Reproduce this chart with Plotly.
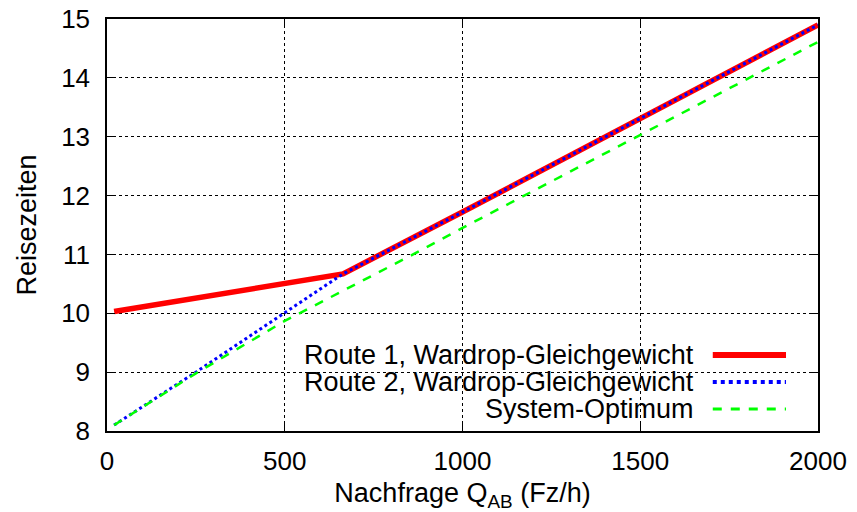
import plotly.graph_objects as go

# ── Data ──────────────────────────────────────────────────────────────────────
route1_q = [20, 664, 1000, 1500, 2000]
route1_t = [10.03, 10.67, 11.72, 13.31, 14.90]

route2_q = [20, 250, 500, 664, 1000, 1500, 2000]
route2_t = [8.10, 9.00, 10.01, 10.67, 11.72, 13.31, 14.90]

sysopt_q = [20, 250, 500, 861, 1000, 1500, 2000]
sysopt_t = [8.10, 8.98, 9.87, 11.00, 11.45, 13.03, 14.61]

names = ['Route 1, Wardrop-Gleichgewicht',
         'Route 2, Wardrop-Gleichgewicht',
         'System-Optimum']
colors = ['#ff0000', '#0000ff', '#00ff00']

FONT = 'Liberation Sans, Arial, sans-serif'
FS = 27        # titles and key text
FS_TICK = 26

fig = go.Figure()
fig.add_trace(go.Scatter(x=route1_q, y=route1_t, mode='lines', name=names[0],
                         line=dict(color=colors[0], width=5.5)))
fig.add_trace(go.Scatter(x=route2_q, y=route2_t, mode='lines', name=names[1],
                         line=dict(color=colors[1], width=3, dash='dot')))
fig.add_trace(go.Scatter(x=sysopt_q, y=sysopt_t, mode='lines', name=names[2],
                         line=dict(color=colors[2], width=2.5, dash='dash')))

# white box behind the key hides the grid, as gnuplot does
fig.add_shape(type='rect', xref='paper', yref='paper',
              x0=0.145, x1=1, y0=0, y1=0.216,
              fillcolor='white', line=dict(width=0), layer='between')

# ── Key: text right-aligned, sample line to its right ────────────────────────
rows_y = [0.1845, 0.119, 0.0534]
dashes = ['solid', 'dot', 'dash']
widths = [6, 4, 3]
for name, col, yy, dsh, w in zip(names, colors, rows_y, dashes, widths):
    fig.add_annotation(xref='paper', yref='paper', x=0.829, y=yy,
                       text=name, showarrow=False, xanchor='right',
                       yanchor='middle', font=dict(size=FS, color='black'))
    fig.add_shape(type='line', xref='paper', yref='paper',
                  x0=0.852, x1=0.955, y0=yy, y1=yy,
                  line=dict(color=col, width=w, dash=dsh))

axis_common = dict(
    showline=True, linecolor='black', linewidth=1.5, mirror='ticks',
    ticks='inside', ticklen=8, tickcolor='black', tickwidth=1,
    showgrid=True, gridcolor='black', gridwidth=1, griddash='dot',
    zeroline=False, automargin=False, ticklabeloverflow='allow',
    tickfont=dict(size=FS_TICK, color='black'),
)

fig.update_layout(
    width=857, height=512,
    margin=dict(l=107, r=39, t=19, b=81),
    paper_bgcolor='white', plot_bgcolor='white',
    font=dict(family=FONT, size=FS, color='black'),
    showlegend=False,
    xaxis=dict(range=[0, 2000], tickvals=[0, 500, 1000, 1500, 2000],
               ticklabelstandoff=6,
               title=dict(text='Nachfrage Q<sub>AB</sub> (Fz/h)', standoff=9,
                          font=dict(size=FS)),
               **axis_common),
    yaxis=dict(range=[8, 15], dtick=1, ticklabelstandoff=10,
               title=dict(text='Reisezeiten', standoff=17, font=dict(size=FS)),
               **axis_common),
)

# drop the default 8px page margin so the figure fills the window
fig.write_html('out.html', config={'displayModeBar': False},
               post_script="document.body.style.margin='0';")
